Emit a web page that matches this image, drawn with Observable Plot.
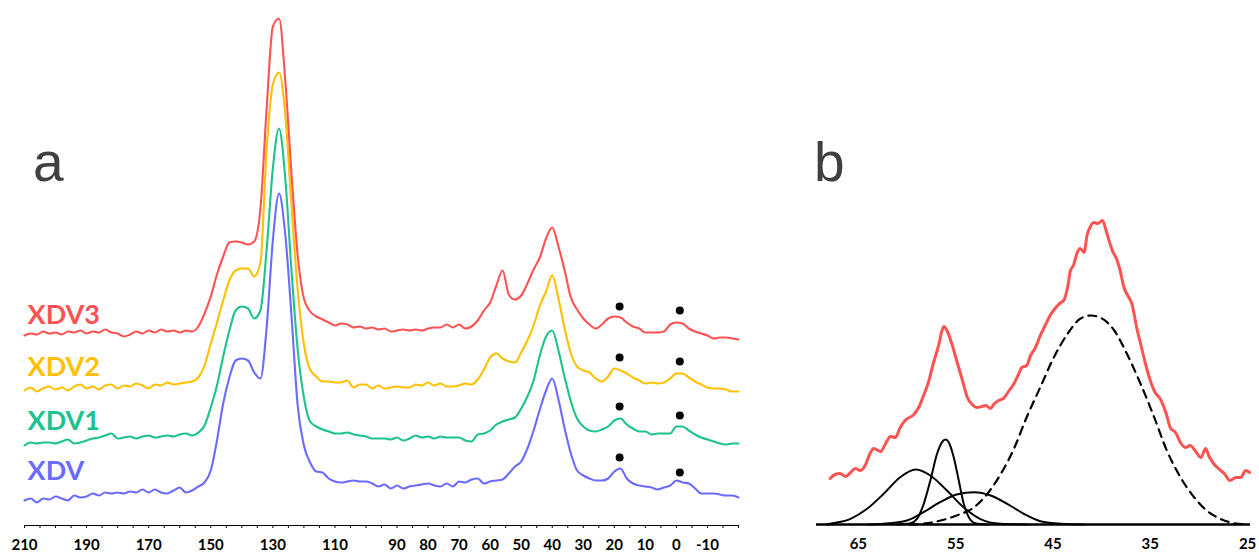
<!DOCTYPE html>
<html><head><meta charset="utf-8">
<script src="https://cdn.jsdelivr.net/npm/d3@7"></script>
<script src="https://cdn.jsdelivr.net/npm/@observablehq/plot@0.6"></script>
<style>
html,body{margin:0;padding:0;background:#fff;}
#wrap{position:relative;width:1259px;height:555px;overflow:hidden;background:#fff;}
#pa{position:absolute;left:0;top:0;}
#pb{position:absolute;left:760px;top:0;}
.letter{position:absolute;font-family:"Liberation Sans",Arial,sans-serif;font-size:55px;line-height:55px;color:#404040;}
</style></head><body>
<div id="wrap">
<div id="pa"></div><div id="pb"></div>
<div class="letter" style="left:33px;top:135px">a</div>
<div class="letter" style="left:814px;top:135px">b</div>
</div>
<script>
// ---------- Panel a : chemical shift grid (ppm) ----------
const ppm = [210,208,206,204,202,200,198,196,194,192,190,188,186,184,182,180,178,176,174,172,170,168,166,164,162,160,158,156,154,152,150,148,146,144,142,140,138,136,134,132,130,128,126,124,122,120,118,116,114,112,110,108,106,104,102,100,98,96,94,92,90,88,86,84,82,80,78,76,74,72,70,68,66,64,62,60,58,56,54,52,50,48,46,44,42,40,38,36,34,32,30,28,26,24,22,20,18,16,14,12,10,8,6,4,2,0,-2,-4,-6,-8,-10,-12,-14,-16,-18,-20];

const xdv3 = [190,192,191,194,192,193,191,194,193,195,
192,194,193,196,193,192,189,191,194,192,
195,193,196,194,195,193,195,194,199,212,
229,251,269,283,284,283,281,284,317,417,
499,507,445,352,270,227,214,209,206,203,
200,202,201,198,199,197,198,196,197,194,
195,196,195,196,195,197,198,198,201,198,
201,197,199,205,215,223,240,255,231,226,
230,242,256,268,287,298,279,255,228,216,
207,201,197,201,207,209,208,203,199,197,
193,193,193,194,201,203,202,197,194,192,
190,187,188,188,187,186];

const xdv2 = [135,138,134,137,139,136,138,135,139,141,
137,139,136,140,141,137,140,139,142,140,
137,141,140,143,141,142,143,144,148,160,
182,203,225,245,255,257,257,249,263,377,
441,453,411,320,236,181,156,149,144,144,
143,143,145,138,141,141,137,140,137,138,
139,138,138,141,140,143,140,142,139,139,
140,142,141,146,156,168,172,167,164,163,
173,185,200,220,234,250,227,197,172,159,
155,153,147,144,149,157,155,152,148,145,
142,143,142,143,147,152,152,148,144,141,
138,137,137,136,134,134];

const xdv1 = [80,83,82,83,83,82,84,86,82,83,
85,87,88,90,92,87,88,89,87,89,
90,88,89,90,89,91,92,90,93,100,
118,140,169,195,215,219,217,207,215,276,
357,397,347,255,176,128,104,99,96,94,
92,92,93,91,90,89,87,87,87,86,
88,85,87,90,88,89,87,89,88,88,
88,85,84,91,92,95,101,104,106,108,
117,129,145,170,189,195,175,148,124,107,
99,95,94,96,99,105,107,101,97,94,
94,91,92,92,92,99,99,95,91,88,
86,84,82,81,82,82];

const xdv = [25,27,23,27,26,29,27,25,30,28,
29,32,30,33,32,33,32,34,33,36,
33,36,33,32,35,38,33,35,39,43,
55,85,122,148,165,167,165,153,147,198,
285,332,291,210,120,80,63,54,53,47,
44,43,44,45,44,44,42,39,41,37,
40,37,39,40,41,42,40,39,42,39,
44,43,46,47,42,44,45,46,52,59,
64,77,95,116,135,147,126,97,72,55,
50,47,45,45,47,54,57,47,42,40,
39,38,36,38,40,45,43,42,37,32,
32,32,31,30,30,28];

const seriesNames = ["XDV3","XDV2","XDV1","XDV"];
const seriesColors = ["#FF5353","#FFC000","#1DC28E","#6B6BFF"];
const seriesValues = [xdv3, xdv2, xdv1, xdv];

// marked peaks (black dots)
const dotPpm = [18.3, -1.1];
const dotXdv3 = [219, 215];
const dotXdv2 = [168, 164];
const dotXdv1 = [119, 110];
const dotXdv  = [68, 53];
const dotValues = [dotXdv3, dotXdv2, dotXdv1, dotXdv];

// axis ticks
const minorTicksA = [210,205,200,195,190,185,180,175,170,165,160,155,150,145,140,135,130,125,120,115,110,105,100,95,90,85,80,75,70,65,60,55,50,45,40,35,30,25,20,15,10,5,0,-5,-10,-15,-20];
const tickLabelsA = [210,190,170,150,130,110,90,80,70,60,50,40,30,20,10,0,-10];

// ---------- Panel b : deconvolution 68-25 ppm ----------
const bPpm = [67.9,67.4,66.9,66.3,65.8,65.3,64.8,64.3,63.8,63.4,62.7,62.2,61.7,61.2,60.7,60.2,59.3,58.8,58.3,57.8,57.3,56.7,56.4,56.2,55.9,55.4,54.9,54.3,53.8,53.3,52.8,52.3,51.9,51.4,51.1,50.6,50.1,49.5,49.0,48.5,48.2,47.7,47.3,46.8,46.3,45.8,45.3,44.7,44.2,43.9,43.5,43.2,42.9,42.5,42.2,41.8,41.5,41.1,40.8,40.4,39.9,39.6,39.3,38.9,38.4,38.1,37.7,37.2,36.9,36.4,36.0,35.5,35.0,34.5,34.0,33.4,32.9,32.4,31.9,31.4,30.9,30.4,29.8,29.3,29.0,28.5,28.0,27.4,26.8,26.2,25.7,25.2,24.8];
const bXdv3 = [46,50,51,48,52,56,54,59,71,76,73,81,88,87,97,104,110,117,129,142,161,181,194,198,194,181,164,144,127,120,117,118,119,116,120,124,126,134,141,151,157,159,169,177,189,199,209,217,222,224,237,254,259,272,276,272,289,299,302,301,304,296,286,274,264,254,237,227,221,197,181,161,144,132,126,112,96,92,82,77,79,74,67,76,69,61,56,51,44,47,47,54,52];

const compBroadPpm = [68.2,67.9,65.8,64.1,62.4,60.7,59.1,57.6,55.9,54.2,52.5,50.4,47.7];
const compBroadVal = [0,0.7,5.7,15.7,30.7,47.3,55,49,34,17.3,5.7,0.7,0];
const compNarrowPpm = [61,59.65,58.97,58.28,57.6,56.91,56.4,56.05,55.71,55.2,54.68,54.17,53.65,52.97,51.77];
const compNarrowVal = [0,1.3,5.7,20.7,44,70.7,82.3,85,82.3,67.3,44,20.7,7.3,1.3,0];
const compMidPpm = [64,62.4,60.0,58.3,56.6,54.9,53.1,51.4,49.7,48.0,46.3,44.2,41.8];
const compMidVal = [0,0.7,4,12.3,22.3,30,32.3,29,20.7,10.7,3.3,0.7,0];
const compMainPpm = [59.7,57.3,54.9,53.1,51.8,50.4,49.0,47.7,46.3,44.9,43.5,42.2,41.1,40.1,38.7,37.4,36.0,34.6,33.3,31.9,30.5,29.2,27.8,26.4,25.0];
const compMainVal = [0,2.3,9,17.3,30,50,76,107.3,137.3,167.3,190.7,205.7,209,206.7,194,170.7,140.7,107.3,74,47.3,27.3,14,5.7,1.3,0];
const tickLabelsB = [65,55,45,35,25];

// ---------- build tables ----------
const rowsA = [];
for (let k = seriesNames.length - 1; k >= 0; k--) {
  ppm.forEach((p, i) => rowsA.push({name: seriesNames[k], ppm: p, v: seriesValues[k][i]}));
}
const dotsA = [];
seriesNames.forEach((n, k) => dotPpm.forEach((p, j) => dotsA.push({name: n, ppm: p, v: dotValues[k][j]})));
const labelLevel = [210, 158, 104, 54];

const toRows = (xs, ys) => xs.map((x, i) => ({ppm: x, v: ys[i]}));

const fmt = d => String(d);

const pa = Plot.plot({
  width: 760, height: 555,
  marginLeft: 24, marginRight: 22, marginTop: 0, marginBottom: 30,
  x: {domain: [210, -20], axis: null, label: null},
  y: {domain: [0, 525], axis: null, label: null},
  color: {domain: seriesNames, range: seriesColors},
  style: {fontFamily: "Lato, 'Open Sans', sans-serif", background: "white", overflow: "visible"},
  marks: [
    Plot.ruleY([0], {stroke: "#000", strokeWidth: 1.2}),
    Plot.ruleX(minorTicksA, {x: d => d, y1: 0, y2: -3, stroke: "#000", strokeWidth: 1}),
    Plot.axisX(tickLabelsA, {tickSize: 0, tickPadding: 14, fontSize: 15, fontWeight: "bold", fill: "#000", tickFormat: fmt, label: null}),
    Plot.line(rowsA, {x: "ppm", y: "v", z: "name", stroke: "name", strokeWidth: 2.1, curve: "monotone-x", strokeLinejoin: "round"}),
    Plot.dot(dotsA, {x: "ppm", y: "v", r: 4, fill: "#000", stroke: "none"}),
    Plot.text(seriesNames, {x: 209, y: (d, i) => labelLevel[i], text: d => d, fill: d => d,
      textAnchor: "start", fontSize: 27, fontWeight: "bold", lineAnchor: "middle"})
  ]
});
document.getElementById("pa").appendChild(pa);

const pb = Plot.plot({
  width: 499, height: 555,
  marginLeft: 56, marginRight: 9, marginTop: 0, marginBottom: 31,
  x: {domain: [69.3, 24.7], axis: null, label: null},
  y: {domain: [0, 524], axis: null, label: null},
  style: {fontFamily: "Lato, 'Open Sans', sans-serif", background: "white", overflow: "visible"},
  marks: [
    Plot.line(toRows(compMainPpm, compMainVal), {x: "ppm", y: "v", stroke: "#000", strokeWidth: 2.2, strokeDasharray: "8,6", curve: "monotone-x"}),
    Plot.line(toRows(compBroadPpm, compBroadVal), {x: "ppm", y: "v", stroke: "#000", strokeWidth: 2, curve: "monotone-x"}),
    Plot.line(toRows(compMidPpm, compMidVal), {x: "ppm", y: "v", stroke: "#000", strokeWidth: 2, curve: "monotone-x"}),
    Plot.line(toRows(compNarrowPpm, compNarrowVal), {x: "ppm", y: "v", stroke: "#000", strokeWidth: 2, curve: "monotone-x"}),
    Plot.line(toRows(bPpm, bXdv3), {x: "ppm", y: "v", stroke: "#FF5353", strokeWidth: 3, curve: "monotone-x"}),
    Plot.ruleY([0], {stroke: "#000", strokeWidth: 2.5}),
    Plot.axisX(tickLabelsB, {tickSize: 0, tickPadding: 14, fontSize: 15, fontWeight: "bold", fill: "#000", tickFormat: fmt, label: null})
  ]
});
document.getElementById("pb").appendChild(pb);
</script>
</body></html>
